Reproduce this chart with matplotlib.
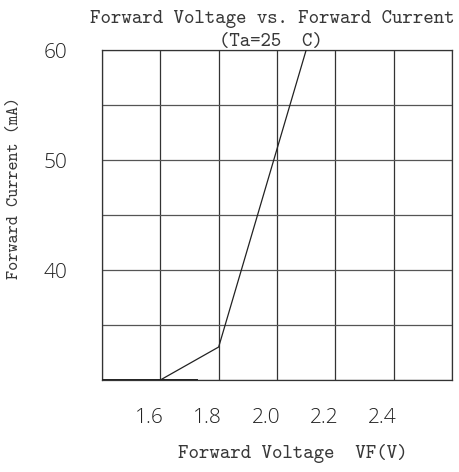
import matplotlib
matplotlib.use("Agg")
import matplotlib.pyplot as plt
from matplotlib.transforms import ScaledTranslation

# forward voltage (V) vs forward current (mA)
vf = [1.6, 1.8, 2.1]
i_f = [30, 33, 60]
base_vf = [1.4, 1.727]
base_if = [30, 30]

x_ticks = [1.6, 1.8, 2.0, 2.2, 2.4]
x_tick_labels = ["1.6", "1.8", "2.0", "2.2", "2.4"]
y_ticks = [40, 50, 60]
y_tick_labels = ["40", "50", "60"]
x_grid = [1.4, 1.6, 1.8, 2.0, 2.2, 2.4, 2.6]
y_grid = [30, 35, 40, 45, 50, 55, 60]

tt = "cmtt10"        # monospaced serif, close to the SimSun look of the sheet
thin = "Open Sans"
ink = "#222222"
txt = "#383838"

fig = plt.figure(figsize=(4.6, 4.72), dpi=100)
ax = fig.add_axes([102 / 460, 1 - 380 / 472, 350 / 460, 330 / 472])

ax.set_xlim(1.4, 2.6)
ax.set_ylim(30, 60)

for x in x_grid:
    ax.axvline(x, color="#333333", lw=0.9, zorder=1)
for y in y_grid:
    ax.axhline(y, color="#555555", lw=0.9, zorder=1)

ax.plot(vf, i_f, color=ink, lw=0.9, zorder=3)
ax.plot(base_vf, base_if, color=ink, lw=1.4, zorder=3)

for s in ax.spines.values():
    s.set_color("#333333")
    s.set_linewidth(0.9)

ax.set_xticks(x_ticks)
ax.set_xticklabels(x_tick_labels, family=thin, fontweight="light", fontsize=15)
ax.set_yticks(y_ticks)
ax.set_yticklabels(y_tick_labels, family=thin, fontweight="light", fontsize=15)
ax.tick_params(axis="x", length=0, pad=20, colors=ink)
ax.tick_params(axis="y", length=0, pad=25, colors=ink)

# labels in the original sit a bit left of their grid lines
shift = ScaledTranslation(-11 / 100, 0, fig.dpi_scale_trans)
for lab in ax.get_xticklabels():
    lab.set_transform(lab.get_transform() + shift)

ax.text(0.486, 1.082, "Forward Voltage vs. Forward Current", transform=ax.transAxes,
        ha="center", va="baseline", family=tt, fontsize=14.3, color=txt)
ax.text(0.484, 1.012, "(Ta=25  C)", transform=ax.transAxes,
        ha="center", va="baseline", family=tt, fontsize=14.3, color=txt)
ax.text(0.546, -0.236, "Forward Voltage  VF(V)", transform=ax.transAxes,
        ha="center", va="baseline", family=tt, fontsize=14.3, color=txt)
ax.text(-0.25, 0.582, "Forward Current (mA)", transform=ax.transAxes, rotation=90,
        ha="center", va="center", family=tt, fontsize=12.5, color=txt)

fig.savefig("out.png", dpi=100)
